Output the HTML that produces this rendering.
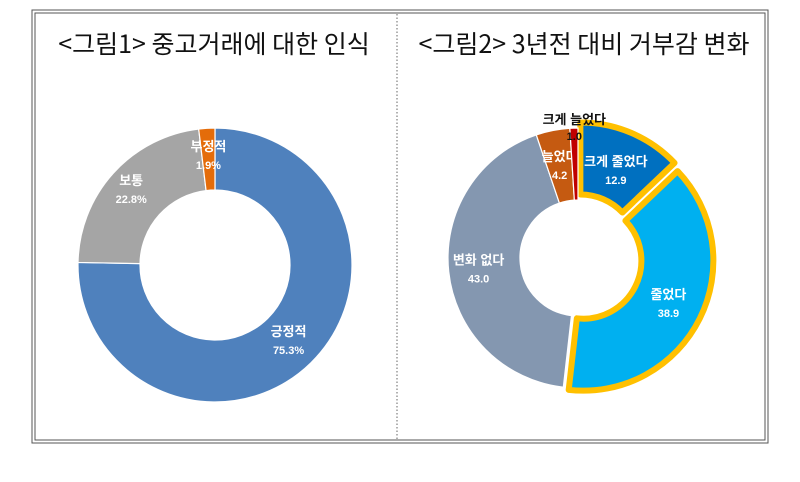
<!DOCTYPE html>
<html><head><meta charset="utf-8">
<style>
html,body{margin:0;padding:0;background:#fff;}
body{width:800px;height:477px;position:relative;overflow:hidden;font-family:"Liberation Sans","Noto Sans CJK KR",sans-serif;}
</style></head>
<body>
<svg width="800" height="477" viewBox="0 0 800 477" xmlns="http://www.w3.org/2000/svg">
  <rect x="32" y="10" width="736" height="433" fill="none" stroke="#555" stroke-width="1"/>
  <rect x="35" y="13" width="730" height="427" fill="none" stroke="#555" stroke-width="1"/>
  <line x1="397" y1="14" x2="397" y2="439" stroke="#666" stroke-dasharray="1.5,2"/>
  <text x="214" y="53" text-anchor="middle" font-size="25" fill="#111" font-family="'Noto Sans CJK KR',sans-serif">&lt;그림1&gt; 중고거래에 대한 인식</text>
  <text x="584" y="53" text-anchor="middle" font-size="25" fill="#111" font-family="'Noto Sans CJK KR',sans-serif">&lt;그림2&gt; 3년전 대비 거부감 변화</text>
  <g id="c1"></g>
  <g id="c2"></g>
</svg>
<script>
const cat1 = ['긍정적','보통','부정적'];
const val1 = [75.3, 22.8, 1.9];
const col1 = ['#4f81bd','#a5a5a5','#e46c0a'];
const cat2 = ['크게 줄었다','줄었다','변화 없다','늘었다','크게 늘었다'];
const val2 = [12.9, 38.9, 43.0, 4.2, 1.0];
const col2 = ['#0070c0','#00b0f0','#8497b0','#c55a11','#c00000'];
const hl2 = [true,true,false,false,false];

const NS='http://www.w3.org/2000/svg';
function pt(cx,cy,r,a){return [cx+r*Math.sin(a), cy-r*Math.cos(a)];}
function arcPath(cx,cy,r0,r1,a0,a1){
  const large=(a1-a0)>Math.PI?1:0;
  const p0=pt(cx,cy,r1,a0),p1=pt(cx,cy,r1,a1),p2=pt(cx,cy,r0,a1),p3=pt(cx,cy,r0,a0);
  return `M${p0[0]},${p0[1]}A${r1},${r1} 0 ${large} 1 ${p1[0]},${p1[1]}L${p2[0]},${p2[1]}A${r0},${r0} 0 ${large} 0 ${p3[0]},${p3[1]}Z`;
}
function txt(g,x,y,s,size,fill,name){
  const t=document.createElementNS(NS,'text');
  t.setAttribute('x',x);t.setAttribute('y',y);t.setAttribute('text-anchor','middle');
  t.setAttribute('font-size',size);t.setAttribute('font-weight','bold');t.setAttribute('fill',fill);
  
  
  t.textContent=s;g.appendChild(t);
}
function donut(gid,cats,vals,cols,cx,cy,r0,r1,opts){
  const g=document.getElementById(gid);
  const tot=vals.reduce((a,b)=>a+b,0);
  let a=0;
  vals.forEach((v,i)=>{
    const a0=a, a1=a+v/tot*2*Math.PI; a=a1;
    const mid=(a0+a1)/2;
    let ox=0,oy=0;
    if(opts.hl&&opts.hl[i]){ox=6*Math.sin(mid);oy=-6*Math.cos(mid);}
    const p=document.createElementNS(NS,'path');
    p.setAttribute('d',arcPath(cx+ox,cy+oy,r0,r1,a0,a1));
    p.setAttribute('fill',cols[i]);
    if(opts.hl&&opts.hl[i]){p.setAttribute('stroke','#ffc000');p.setAttribute('stroke-width','6');p.setAttribute('stroke-linejoin','round');}
    else{p.setAttribute('stroke','#fff');p.setAttribute('stroke-width','1.2');}
    
    
    g.appendChild(p);
    // labels
    const lr=opts.lr[i];
    const lp=pt(cx+ox,cy+oy,lr,mid);
    const vs=opts.pct?v.toFixed(1)+'%':v.toFixed(1);
    if(opts.outside&&opts.outside[i]){
      txt(g,lp[0],lp[1]-16,cats[i],13,'#111','slice-label-'+(i+1));
      txt(g,lp[0],lp[1],vs,11,'#111','slice-value-'+(i+1));
    } else {
      txt(g,lp[0],lp[1]-4,cats[i],13,'#fff','slice-label-'+(i+1));
      txt(g,lp[0],lp[1]+14,vs,11,'#fff','slice-value-'+(i+1));
    }
  });
}
donut('c1',cat1,val1,col1,215,265,75,137,{pct:true,lr:[105,113,110]});
donut('c2',cat2,val2,col2,578,258,58,130,{pct:false,lr:[90,95,100,95,118],hl:hl2,outside:[false,false,false,false,true]});
</script>
</body></html>
